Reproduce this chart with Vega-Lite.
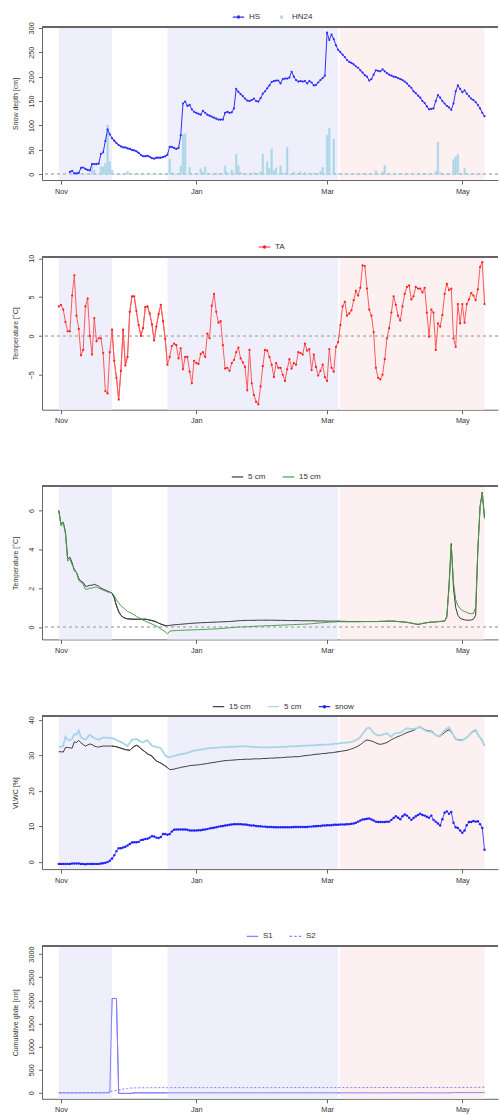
{
  "$schema": "https://vega.github.io/schema/vega-lite/v6.json",
  "background": "white",
  "padding": {"left": 11, "top": 10, "right": 0, "bottom": 0},
  "spacing": 76.7,
  "bounds": "flush",
  "datasets": {
    "bg": [
      {"s": "2020-10-31", "e": "2020-11-24", "t": "b"},
      {"s": "2020-12-19", "e": "2021-03-05T21:00:00Z", "t": "b"},
      {"s": "2021-03-06T18:00:00Z", "e": "2021-05-11", "t": "p"}
    ],
    "t": [
      {"d":"2020-10-31","TA":3.8,"T5":6.0,"T15":6.0,"V15":31.0,"V5":32.4,"VS":-0.6,"S1":0,"S2":0},
      {"d":"2020-11-01","TA":4.0,"T5":5.3,"T15":5.2,"V15":31.0,"V5":32.4,"VS":-0.6,"S1":0,"S2":0},
      {"d":"2020-11-02","TA":3.4,"T5":5.4,"T15":5.4,"V15":30.9,"V5":32.6,"VS":-0.6,"S1":0,"S2":0},
      {"d":"2020-11-03","TA":1.8,"T5":4.9,"T15":4.8,"V15":32.2,"V5":35.2,"VS":-0.6,"S1":0,"S2":0},
      {"d":"2020-11-04","TA":0.6,"T5":3.5,"T15":3.4,"V15":32.2,"V5":34.4,"VS":-0.6,"S1":0,"S2":0},
      {"d":"2020-11-05","HS":5,"HN":0,"TA":0.6,"T5":3.6,"T15":3.5,"V15":32.1,"V5":34.2,"VS":-0.6,"S1":0,"S2":0},
      {"d":"2020-11-06","HS":7,"HN":0,"TA":5.2,"T5":3.3,"T15":3.2,"V15":32.0,"V5":34.6,"VS":-0.5,"S1":0,"S2":0},
      {"d":"2020-11-07","HS":2,"HN":0,"TA":7.8,"T5":2.9,"T15":3.0,"V15":33.8,"V5":36.0,"VS":-0.5,"S1":0,"S2":0},
      {"d":"2020-11-08","HS":2,"HN":0,"TA":2.6,"T5":2.8,"T15":2.8,"V15":33.6,"V5":35.8,"VS":-0.5,"S1":0,"S2":0},
      {"d":"2020-11-09","HS":3,"HN":0,"TA":0.9,"T5":2.5,"T15":2.4,"V15":34.2,"V5":36.9,"VS":-0.5,"S1":0,"S2":0},
      {"d":"2020-11-10","HS":13,"HN":0,"TA":-2.5,"T5":2.35,"T15":2.3,"V15":33.5,"V5":35.0,"VS":-0.6,"S1":0,"S2":0},
      {"d":"2020-11-11","HS":14,"HN":0,"TA":-1.8,"T5":2.3,"T15":2.2,"V15":33.0,"V5":34.7,"VS":-0.6,"S1":0,"S2":3},
      {"d":"2020-11-12","HS":11,"HN":0,"TA":3.8,"T5":2.1,"T15":1.95,"V15":32.6,"V5":34.4,"VS":-0.7,"S1":0,"S2":3},
      {"d":"2020-11-13","HS":9,"HN":0,"TA":4.8,"T5":2.1,"T15":1.95,"V15":32.9,"V5":35.1,"VS":-0.6,"S1":0,"S2":3},
      {"d":"2020-11-14","HS":8,"HN":0,"TA":0.0,"T5":2.15,"T15":2.0,"V15":33.2,"V5":35.8,"VS":-0.6,"S1":0,"S2":3},
      {"d":"2020-11-15","HS":21,"HN":17,"TA":-2.4,"T5":2.15,"T15":2.0,"V15":33.0,"V5":35.3,"VS":-0.6,"S1":0,"S2":3},
      {"d":"2020-11-16","HS":21,"HN":8,"TA":2.3,"T5":2.2,"T15":2.05,"V15":32.6,"V5":34.8,"VS":-0.6,"S1":0,"S2":3},
      {"d":"2020-11-17","HS":21,"HN":0,"TA":-0.7,"T5":2.15,"T15":2.05,"V15":32.4,"V5":34.6,"VS":-0.6,"S1":0,"S2":3},
      {"d":"2020-11-18","HS":22,"HN":0,"TA":-0.3,"T5":2.1,"T15":2.0,"V15":32.3,"V5":34.4,"VS":-0.6,"S1":0,"S2":3},
      {"d":"2020-11-19","HS":42,"HN":16,"TA":-0.3,"T5":2.0,"T15":1.95,"V15":32.5,"V5":34.7,"VS":-0.5,"S1":0,"S2":3},
      {"d":"2020-11-20","HS":45,"HN":15,"TA":-2.2,"T5":1.95,"T15":1.9,"V15":32.6,"V5":35.0,"VS":-0.4,"S1":0,"S2":3},
      {"d":"2020-11-21","HS":68,"HN":23,"TA":-7.1,"T5":1.9,"T15":1.85,"V15":32.6,"V5":35.0,"VS":-0.3,"S1":0,"S2":3},
      {"d":"2020-11-22","HS":92,"HN":101,"TA":-7.4,"T5":1.85,"T15":1.8,"V15":32.6,"V5":34.9,"VS":-0.1,"S1":0,"S2":10},
      {"d":"2020-11-23","HS":82,"HN":26,"TA":-2.1,"T5":1.8,"T15":1.78,"V15":32.6,"V5":34.9,"VS":0.3,"S1":0,"S2":25},
      {"d":"2020-11-24","HS":74,"HN":9,"TA":0.8,"T5":1.75,"T15":1.75,"V15":32.6,"V5":34.8,"VS":0.9,"S1":2040,"S2":40},
      {"d":"2020-11-25","HS":69,"HN":0,"TA":-3.2,"T5":1.5,"T15":1.6,"V15":32.5,"V5":34.6,"VS":1.8,"S1":2040,"S2":45},
      {"d":"2020-11-26","HS":64,"HN":0,"TA":-5.4,"T5":1.1,"T15":1.4,"V15":32.4,"V5":34.3,"VS":3.0,"S1":2040,"S2":50},
      {"d":"2020-11-27","HS":60,"HN":0,"TA":-8.2,"T5":0.8,"T15":1.25,"V15":32.2,"V5":34.0,"VS":3.8,"S1":-12,"S2":60},
      {"d":"2020-11-28","HS":57,"HN":0,"TA":-4.5,"T5":0.6,"T15":1.1,"V15":32.0,"V5":33.8,"VS":3.8,"S1":-12,"S2":70},
      {"d":"2020-11-29","HS":55,"HN":0,"TA":0.8,"T5":0.5,"T15":1.0,"V15":31.8,"V5":33.4,"VS":4.0,"S1":-12,"S2":80},
      {"d":"2020-11-30","HS":55,"HN":0,"TA":-3.8,"T5":0.45,"T15":0.9,"V15":31.6,"V5":33.0,"VS":4.2,"S1":-12,"S2":88},
      {"d":"2020-12-01","HS":53,"HN":6,"TA":-2.7,"T5":0.42,"T15":0.8,"V15":31.5,"V5":32.6,"VS":4.6,"S1":-12,"S2":94},
      {"d":"2020-12-02","HS":52,"HN":0,"TA":3.1,"T5":0.41,"T15":0.75,"V15":31.4,"V5":33.5,"VS":5.0,"S1":-12,"S2":100},
      {"d":"2020-12-03","HS":50,"HN":0,"TA":5.1,"T5":0.4,"T15":0.7,"V15":32.0,"V5":34.4,"VS":5.4,"S1":-12,"S2":103},
      {"d":"2020-12-04","HS":49,"HN":0,"TA":5.1,"T5":0.4,"T15":0.62,"V15":32.5,"V5":34.5,"VS":5.5,"S1":0,"S2":105},
      {"d":"2020-12-05","HS":47,"HN":0,"TA":3.2,"T5":0.4,"T15":0.55,"V15":32.8,"V5":34.6,"VS":5.5,"S1":0,"S2":107},
      {"d":"2020-12-06","HS":44,"HN":0,"TA":1.4,"T5":0.4,"T15":0.48,"V15":32.5,"V5":34.2,"VS":5.6,"S1":0,"S2":108},
      {"d":"2020-12-07","HS":40,"HN":0,"TA":0.0,"T5":0.4,"T15":0.42,"V15":31.9,"V5":33.8,"VS":6.1,"S1":0,"S2":109},
      {"d":"2020-12-08","HS":37,"HN":0,"TA":1.0,"T5":0.4,"T15":0.35,"V15":31.4,"V5":33.6,"VS":6.2,"S1":0,"S2":110},
      {"d":"2020-12-09","HS":37,"HN":0,"TA":3.7,"T5":0.4,"T15":0.3,"V15":30.9,"V5":34.0,"VS":6.4,"S1":0,"S2":110},
      {"d":"2020-12-10","HS":38,"HN":0,"TA":3.8,"T5":0.38,"T15":0.25,"V15":30.4,"V5":34.2,"VS":6.5,"S1":0,"S2":110},
      {"d":"2020-12-11","HS":36,"HN":0,"TA":2.9,"T5":0.36,"T15":0.2,"V15":30.1,"V5":33.4,"VS":6.8,"S1":0,"S2":110},
      {"d":"2020-12-12","HS":33,"HN":0,"TA":1.5,"T5":0.33,"T15":0.15,"V15":29.8,"V5":32.7,"VS":7.2,"S1":0,"S2":111},
      {"d":"2020-12-13","HS":32,"HN":0,"TA":-0.6,"T5":0.3,"T15":0.1,"V15":29.0,"V5":32.5,"VS":7.1,"S1":0,"S2":111},
      {"d":"2020-12-14","HS":34,"HN":0,"TA":1.2,"T5":0.26,"T15":0.05,"V15":28.4,"V5":32.4,"VS":6.8,"S1":0,"S2":111},
      {"d":"2020-12-15","HS":34,"HN":0,"TA":2.8,"T5":0.2,"T15":-0.02,"V15":28.1,"V5":32.2,"VS":6.7,"S1":0,"S2":111},
      {"d":"2020-12-16","HS":34,"HN":0,"TA":4.0,"T5":0.15,"T15":-0.1,"V15":27.8,"V5":32.0,"VS":7.0,"S1":0,"S2":111},
      {"d":"2020-12-17","HS":35,"HN":0,"TA":1.9,"T5":0.11,"T15":-0.17,"V15":27.4,"V5":31.0,"VS":7.8,"S1":0,"S2":112},
      {"d":"2020-12-18","HS":37,"HN":0,"TA":-0.4,"T5":0.07,"T15":-0.25,"V15":27.0,"V5":30.0,"VS":7.8,"S1":0,"S2":112},
      {"d":"2020-12-19","HS":40,"HN":0,"TA":-3.7,"T5":0.07,"T15":-0.35,"V15":26.5,"V5":29.5,"VS":7.6,"S1":0,"S2":112},
      {"d":"2020-12-20","HS":56,"HN":31,"TA":-2.7,"T5":0.08,"T15":-0.22,"V15":26.0,"V5":29.5,"VS":7.8,"S1":0,"S2":112},
      {"d":"2020-12-21","HS":56,"HN":3,"TA":-1.3,"T5":0.1,"T15":-0.2,"V15":26.0,"V5":29.6,"VS":8.5,"S1":0,"S2":112},
      {"d":"2020-12-22","HS":54,"HN":0,"TA":-1.0,"T5":0.11,"T15":-0.19,"V15":26.1,"V5":29.8,"VS":9.0,"S1":0,"S2":113},
      {"d":"2020-12-23","HS":52,"HN":0,"TA":-1.2,"T5":0.12,"T15":-0.18,"V15":26.3,"V5":30.0,"VS":9.1,"S1":0,"S2":113},
      {"d":"2020-12-24","HS":54,"HN":0,"TA":-2.9,"T5":0.13,"T15":-0.18,"V15":26.4,"V5":30.2,"VS":9.1,"S1":0,"S2":113},
      {"d":"2020-12-25","HS":80,"HN":17,"TA":-1.6,"T5":0.14,"T15":-0.17,"V15":26.6,"V5":30.3,"VS":9.1,"S1":0,"S2":113},
      {"d":"2020-12-26","HS":145,"HN":82,"TA":-4.3,"T5":0.15,"T15":-0.17,"V15":26.7,"V5":30.4,"VS":9.1,"S1":0,"S2":113},
      {"d":"2020-12-27","HS":149,"HN":83,"TA":-2.7,"T5":0.16,"T15":-0.16,"V15":26.8,"V5":30.5,"VS":9.1,"S1":0,"S2":113},
      {"d":"2020-12-28","HS":140,"HN":0,"TA":-2.7,"T5":0.17,"T15":-0.16,"V15":26.9,"V5":30.7,"VS":9.0,"S1":0,"S2":113},
      {"d":"2020-12-29","HS":142,"HN":14,"TA":-4.6,"T5":0.18,"T15":-0.15,"V15":27.1,"V5":30.9,"VS":8.8,"S1":0,"S2":113},
      {"d":"2020-12-30","HS":133,"HN":0,"TA":-6.1,"T5":0.19,"T15":-0.15,"V15":27.15,"V5":31.1,"VS":8.8,"S1":0,"S2":113},
      {"d":"2020-12-31","HS":128,"HN":0,"TA":-3.2,"T5":0.2,"T15":-0.15,"V15":27.2,"V5":31.3,"VS":8.8,"S1":0,"S2":113},
      {"d":"2021-01-01","HS":126,"HN":0,"TA":-3.5,"T5":0.2,"T15":-0.14,"V15":27.25,"V5":31.4,"VS":8.8,"S1":0,"S2":113},
      {"d":"2021-01-02","HS":124,"HN":0,"TA":-3.6,"T5":0.21,"T15":-0.14,"V15":27.3,"V5":31.5,"VS":8.9,"S1":0,"S2":113},
      {"d":"2021-01-03","HS":122,"HN":11,"TA":-2.3,"T5":0.22,"T15":-0.13,"V15":27.4,"V5":31.6,"VS":8.9,"S1":0,"S2":113},
      {"d":"2021-01-04","HS":130,"HN":5,"TA":-2.1,"T5":0.22,"T15":-0.13,"V15":27.5,"V5":31.7,"VS":9.0,"S1":0,"S2":113},
      {"d":"2021-01-05","HS":126,"HN":15,"TA":-2.7,"T5":0.23,"T15":-0.12,"V15":27.6,"V5":31.9,"VS":9.1,"S1":0,"S2":113},
      {"d":"2021-01-06","HS":122,"HN":0,"TA":0.3,"T5":0.23,"T15":-0.12,"V15":27.7,"V5":31.9,"VS":9.2,"S1":0,"S2":113},
      {"d":"2021-01-07","HS":120,"HN":0,"TA":-0.3,"T5":0.24,"T15":-0.11,"V15":27.8,"V5":32.0,"VS":9.4,"S1":0,"S2":113},
      {"d":"2021-01-08","HS":118,"HN":0,"TA":3.9,"T5":0.24,"T15":-0.11,"V15":27.9,"V5":32.0,"VS":9.5,"S1":0,"S2":113},
      {"d":"2021-01-09","HS":116,"HN":0,"TA":5.4,"T5":0.25,"T15":-0.1,"V15":28.0,"V5":32.1,"VS":9.6,"S1":0,"S2":113},
      {"d":"2021-01-10","HS":114,"HN":3,"TA":3.1,"T5":0.25,"T15":-0.1,"V15":28.1,"V5":32.1,"VS":9.7,"S1":0,"S2":113},
      {"d":"2021-01-11","HS":112,"HN":0,"TA":1.7,"T5":0.26,"T15":-0.09,"V15":28.2,"V5":32.2,"VS":9.9,"S1":0,"S2":113},
      {"d":"2021-01-12","HS":112,"HN":0,"TA":1.9,"T5":0.26,"T15":-0.08,"V15":28.3,"V5":32.2,"VS":10.0,"S1":0,"S2":113},
      {"d":"2021-01-13","HS":112,"HN":0,"TA":-1.2,"T5":0.27,"T15":-0.07,"V15":28.4,"V5":32.3,"VS":10.1,"S1":0,"S2":113},
      {"d":"2021-01-14","HS":126,"HN":17,"TA":-4.2,"T5":0.27,"T15":-0.06,"V15":28.5,"V5":32.3,"VS":10.2,"S1":0,"S2":113},
      {"d":"2021-01-15","HS":128,"HN":4,"TA":-4.1,"T5":0.28,"T15":-0.05,"V15":28.5,"V5":32.3,"VS":10.3,"S1":0,"S2":113},
      {"d":"2021-01-16","HS":126,"HN":0,"TA":-4.5,"T5":0.28,"T15":-0.04,"V15":28.6,"V5":32.4,"VS":10.4,"S1":0,"S2":113},
      {"d":"2021-01-17","HS":127,"HN":9,"TA":-3.5,"T5":0.29,"T15":-0.03,"V15":28.6,"V5":32.4,"VS":10.5,"S1":0,"S2":113},
      {"d":"2021-01-18","HS":135,"HN":0,"TA":-3.1,"T5":0.3,"T15":-0.02,"V15":28.7,"V5":32.4,"VS":10.6,"S1":0,"S2":113},
      {"d":"2021-01-19","HS":175,"HN":41,"TA":-2.1,"T5":0.31,"T15":-0.01,"V15":28.7,"V5":32.4,"VS":10.6,"S1":0,"S2":113},
      {"d":"2021-01-20","HS":169,"HN":18,"TA":-1.5,"T5":0.32,"T15":0.0,"V15":28.8,"V5":32.5,"VS":10.6,"S1":0,"S2":113},
      {"d":"2021-01-21","HS":164,"HN":4,"TA":-2.9,"T5":0.33,"T15":0.0,"V15":28.8,"V5":32.5,"VS":10.6,"S1":0,"S2":113},
      {"d":"2021-01-22","HS":160,"HN":0,"TA":-3.4,"T5":0.33,"T15":0.0,"V15":28.8,"V5":32.5,"VS":10.5,"S1":0,"S2":113},
      {"d":"2021-01-23","HS":155,"HN":0,"TA":-4.0,"T5":0.34,"T15":0.01,"V15":28.9,"V5":32.5,"VS":10.5,"S1":0,"S2":113},
      {"d":"2021-01-24","HS":151,"HN":0,"TA":-7.0,"T5":0.34,"T15":0.01,"V15":28.9,"V5":32.5,"VS":10.4,"S1":0,"S2":113},
      {"d":"2021-01-25","HS":150,"HN":0,"TA":-1.8,"T5":0.34,"T15":0.02,"V15":28.9,"V5":32.4,"VS":10.3,"S1":0,"S2":113},
      {"d":"2021-01-26","HS":152,"HN":0,"TA":-6.1,"T5":0.34,"T15":0.03,"V15":28.9,"V5":32.4,"VS":10.2,"S1":0,"S2":113},
      {"d":"2021-01-27","HS":155,"HN":4,"TA":-7.6,"T5":0.34,"T15":0.03,"V15":29.0,"V5":32.3,"VS":10.2,"S1":0,"S2":113},
      {"d":"2021-01-28","HS":150,"HN":0,"TA":-8.5,"T5":0.35,"T15":0.04,"V15":29.0,"V5":32.3,"VS":10.1,"S1":0,"S2":113},
      {"d":"2021-01-29","HS":149,"HN":0,"TA":-8.8,"T5":0.35,"T15":0.04,"V15":29.0,"V5":32.3,"VS":10.0,"S1":0,"S2":113},
      {"d":"2021-01-30","HS":156,"HN":5,"TA":-6.5,"T5":0.35,"T15":0.05,"V15":29.0,"V5":32.2,"VS":10.0,"S1":0,"S2":113},
      {"d":"2021-01-31","HS":165,"HN":41,"TA":-3.9,"T5":0.35,"T15":0.05,"V15":29.1,"V5":32.2,"VS":9.9,"S1":0,"S2":113},
      {"d":"2021-02-01","HS":170,"HN":0,"TA":-1.8,"T5":0.35,"T15":0.06,"V15":29.1,"V5":32.2,"VS":9.9,"S1":0,"S2":113},
      {"d":"2021-02-02","HS":176,"HN":26,"TA":-1.9,"T5":0.35,"T15":0.06,"V15":29.1,"V5":32.2,"VS":9.8,"S1":0,"S2":113},
      {"d":"2021-02-03","HS":182,"HN":12,"TA":-2.7,"T5":0.35,"T15":0.07,"V15":29.2,"V5":32.2,"VS":9.8,"S1":0,"S2":113},
      {"d":"2021-02-04","HS":189,"HN":52,"TA":-3.7,"T5":0.35,"T15":0.07,"V15":29.2,"V5":32.3,"VS":9.8,"S1":0,"S2":113},
      {"d":"2021-02-05","HS":191,"HN":8,"TA":-5.3,"T5":0.35,"T15":0.08,"V15":29.2,"V5":32.3,"VS":9.7,"S1":0,"S2":113},
      {"d":"2021-02-06","HS":192,"HN":13,"TA":-3.5,"T5":0.34,"T15":0.08,"V15":29.3,"V5":32.3,"VS":9.7,"S1":0,"S2":113},
      {"d":"2021-02-07","HS":192,"HN":0,"TA":-4.1,"T5":0.34,"T15":0.09,"V15":29.3,"V5":32.3,"VS":9.7,"S1":0,"S2":113},
      {"d":"2021-02-08","HS":186,"HN":17,"TA":-4.1,"T5":0.34,"T15":0.09,"V15":29.3,"V5":32.3,"VS":9.7,"S1":0,"S2":113},
      {"d":"2021-02-09","HS":195,"HN":3,"TA":-5.0,"T5":0.34,"T15":0.1,"V15":29.4,"V5":32.4,"VS":9.7,"S1":0,"S2":113},
      {"d":"2021-02-10","HS":196,"HN":0,"TA":-5.8,"T5":0.34,"T15":0.1,"V15":29.4,"V5":32.4,"VS":9.7,"S1":0,"S2":114},
      {"d":"2021-02-11","HS":196,"HN":55,"TA":-4.3,"T5":0.33,"T15":0.11,"V15":29.5,"V5":32.4,"VS":9.7,"S1":0,"S2":114},
      {"d":"2021-02-12","HS":198,"HN":0,"TA":-3.0,"T5":0.33,"T15":0.11,"V15":29.5,"V5":32.5,"VS":9.7,"S1":0,"S2":114},
      {"d":"2021-02-13","HS":210,"HN":0,"TA":-4.2,"T5":0.33,"T15":0.12,"V15":29.5,"V5":32.5,"VS":9.7,"S1":0,"S2":114},
      {"d":"2021-02-14","HS":200,"HN":5,"TA":-3.5,"T5":0.33,"T15":0.12,"V15":29.6,"V5":32.5,"VS":9.8,"S1":0,"S2":114},
      {"d":"2021-02-15","HS":193,"HN":0,"TA":-3.7,"T5":0.33,"T15":0.13,"V15":29.6,"V5":32.6,"VS":9.8,"S1":0,"S2":114},
      {"d":"2021-02-16","HS":190,"HN":0,"TA":-2.1,"T5":0.33,"T15":0.13,"V15":29.6,"V5":32.6,"VS":9.8,"S1":0,"S2":114},
      {"d":"2021-02-17","HS":191,"HN":5,"TA":-2.2,"T5":0.32,"T15":0.14,"V15":29.7,"V5":32.6,"VS":9.8,"S1":0,"S2":114},
      {"d":"2021-02-18","HS":190,"HN":0,"TA":-2.4,"T5":0.32,"T15":0.14,"V15":29.8,"V5":32.7,"VS":9.8,"S1":0,"S2":114},
      {"d":"2021-02-19","HS":191,"HN":4,"TA":-1.0,"T5":0.32,"T15":0.15,"V15":29.9,"V5":32.7,"VS":9.8,"S1":0,"S2":114},
      {"d":"2021-02-20","HS":186,"HN":0,"TA":-1.9,"T5":0.32,"T15":0.15,"V15":30.0,"V5":32.7,"VS":9.8,"S1":0,"S2":114},
      {"d":"2021-02-21","HS":191,"HN":3,"TA":-1.7,"T5":0.32,"T15":0.16,"V15":30.0,"V5":32.8,"VS":9.9,"S1":0,"S2":114},
      {"d":"2021-02-22","HS":188,"HN":0,"TA":-4.4,"T5":0.32,"T15":0.17,"V15":30.1,"V5":32.8,"VS":9.9,"S1":0,"S2":114},
      {"d":"2021-02-23","HS":182,"HN":3,"TA":-2.4,"T5":0.32,"T15":0.18,"V15":30.2,"V5":32.8,"VS":10.0,"S1":0,"S2":114},
      {"d":"2021-02-24","HS":183,"HN":0,"TA":-4.0,"T5":0.31,"T15":0.19,"V15":30.3,"V5":32.9,"VS":10.0,"S1":0,"S2":114},
      {"d":"2021-02-25","HS":188,"HN":0,"TA":-5.1,"T5":0.31,"T15":0.2,"V15":30.3,"V5":32.9,"VS":10.1,"S1":0,"S2":114},
      {"d":"2021-02-26","HS":193,"HN":6,"TA":-4.5,"T5":0.31,"T15":0.21,"V15":30.4,"V5":32.9,"VS":10.1,"S1":0,"S2":114},
      {"d":"2021-02-27","HS":197,"HN":14,"TA":-3.7,"T5":0.31,"T15":0.22,"V15":30.5,"V5":33.0,"VS":10.2,"S1":0,"S2":114},
      {"d":"2021-02-28","HS":202,"HN":0,"TA":-5.3,"T5":0.31,"T15":0.23,"V15":30.5,"V5":33.0,"VS":10.2,"S1":0,"S2":114},
      {"d":"2021-03-01","HS":290,"HN":80,"TA":-5.8,"T5":0.3,"T15":0.24,"V15":30.6,"V5":33.0,"VS":10.3,"S1":0,"S2":114},
      {"d":"2021-03-02","HS":275,"HN":95,"TA":-1.7,"T5":0.3,"T15":0.25,"V15":30.7,"V5":33.1,"VS":10.3,"S1":0,"S2":114},
      {"d":"2021-03-03","HS":286,"HN":0,"TA":-4.1,"T5":0.3,"T15":0.25,"V15":30.7,"V5":33.1,"VS":10.3,"S1":0,"S2":114},
      {"d":"2021-03-04","HS":277,"HN":72,"TA":-4.6,"T5":0.3,"T15":0.26,"V15":30.8,"V5":33.2,"VS":10.4,"S1":0,"S2":114},
      {"d":"2021-03-05","HS":264,"HN":0,"TA":-1.4,"T5":0.3,"T15":0.26,"V15":30.9,"V5":33.3,"VS":10.4,"S1":0,"S2":114},
      {"d":"2021-03-06","HS":255,"HN":0,"TA":-0.8,"T5":0.3,"T15":0.27,"V15":31.0,"V5":33.3,"VS":10.4,"S1":0,"S2":114},
      {"d":"2021-03-07","HS":250,"HN":0,"TA":1.4,"T5":0.29,"T15":0.27,"V15":31.1,"V5":33.4,"VS":10.5,"S1":0,"S2":114},
      {"d":"2021-03-08","HS":245,"HN":0,"TA":3.8,"T5":0.29,"T15":0.27,"V15":31.2,"V5":33.5,"VS":10.5,"S1":0,"S2":114},
      {"d":"2021-03-09","HS":240,"HN":0,"TA":4.4,"T5":0.29,"T15":0.27,"V15":31.3,"V5":33.5,"VS":10.5,"S1":0,"S2":114},
      {"d":"2021-03-10","HS":234,"HN":0,"TA":2.6,"T5":0.28,"T15":0.27,"V15":31.4,"V5":33.6,"VS":10.6,"S1":0,"S2":114},
      {"d":"2021-03-11","HS":230,"HN":0,"TA":2.9,"T5":0.28,"T15":0.27,"V15":31.6,"V5":33.7,"VS":10.6,"S1":0,"S2":114},
      {"d":"2021-03-12","HS":228,"HN":0,"TA":3.3,"T5":0.28,"T15":0.27,"V15":31.8,"V5":33.8,"VS":10.7,"S1":0,"S2":114},
      {"d":"2021-03-13","HS":225,"HN":0,"TA":4.6,"T5":0.28,"T15":0.27,"V15":32.0,"V5":34.0,"VS":10.8,"S1":0,"S2":114},
      {"d":"2021-03-14","HS":221,"HN":0,"TA":5.8,"T5":0.28,"T15":0.27,"V15":32.3,"V5":34.3,"VS":11.0,"S1":0,"S2":114},
      {"d":"2021-03-15","HS":218,"HN":0,"TA":5.2,"T5":0.28,"T15":0.27,"V15":32.6,"V5":34.6,"VS":11.3,"S1":0,"S2":114},
      {"d":"2021-03-16","HS":213,"HN":0,"TA":6.2,"T5":0.28,"T15":0.27,"V15":33.0,"V5":35.2,"VS":11.6,"S1":0,"S2":114},
      {"d":"2021-03-17","HS":208,"HN":0,"TA":9.1,"T5":0.28,"T15":0.28,"V15":33.5,"V5":36.0,"VS":11.9,"S1":0,"S2":114},
      {"d":"2021-03-18","HS":203,"HN":0,"TA":9.0,"T5":0.28,"T15":0.28,"V15":34.0,"V5":36.9,"VS":12.0,"S1":0,"S2":114},
      {"d":"2021-03-19","HS":200,"HN":0,"TA":6.1,"T5":0.28,"T15":0.28,"V15":34.3,"V5":37.6,"VS":12.1,"S1":0,"S2":114},
      {"d":"2021-03-20","HS":192,"HN":0,"TA":3.4,"T5":0.28,"T15":0.28,"V15":34.2,"V5":37.8,"VS":12.2,"S1":0,"S2":115},
      {"d":"2021-03-21","HS":195,"HN":0,"TA":2.6,"T5":0.28,"T15":0.28,"V15":34.0,"V5":37.2,"VS":11.9,"S1":0,"S2":115},
      {"d":"2021-03-22","HS":204,"HN":0,"TA":0.5,"T5":0.28,"T15":0.28,"V15":33.8,"V5":36.3,"VS":11.6,"S1":0,"S2":115},
      {"d":"2021-03-23","HS":213,"HN":8,"TA":-4.1,"T5":0.28,"T15":0.28,"V15":33.5,"V5":35.8,"VS":11.3,"S1":0,"S2":115},
      {"d":"2021-03-24","HS":212,"HN":0,"TA":-5.4,"T5":0.28,"T15":0.28,"V15":33.2,"V5":35.6,"VS":11.2,"S1":0,"S2":115},
      {"d":"2021-03-25","HS":211,"HN":0,"TA":-5.6,"T5":0.29,"T15":0.29,"V15":33.1,"V5":35.6,"VS":11.2,"S1":0,"S2":115},
      {"d":"2021-03-26","HS":215,"HN":5,"TA":-5.0,"T5":0.29,"T15":0.29,"V15":33.2,"V5":35.8,"VS":11.2,"S1":0,"S2":115},
      {"d":"2021-03-27","HS":211,"HN":18,"TA":-3.0,"T5":0.29,"T15":0.29,"V15":33.4,"V5":36.0,"VS":11.2,"S1":0,"S2":115},
      {"d":"2021-03-28","HS":207,"HN":0,"TA":-0.3,"T5":0.3,"T15":0.3,"V15":33.6,"V5":36.2,"VS":11.3,"S1":0,"S2":115},
      {"d":"2021-03-29","HS":204,"HN":0,"TA":1.0,"T5":0.3,"T15":0.3,"V15":34.0,"V5":35.6,"VS":11.3,"S1":0,"S2":115},
      {"d":"2021-03-30","HS":202,"HN":0,"TA":3.0,"T5":0.3,"T15":0.3,"V15":34.4,"V5":35.2,"VS":11.8,"S1":0,"S2":115},
      {"d":"2021-03-31","HS":200,"HN":0,"TA":5.1,"T5":0.3,"T15":0.3,"V15":34.7,"V5":36.0,"VS":12.3,"S1":0,"S2":115},
      {"d":"2021-04-01","HS":199,"HN":0,"TA":4.0,"T5":0.29,"T15":0.29,"V15":35.0,"V5":36.2,"VS":12.8,"S1":0,"S2":115},
      {"d":"2021-04-02","HS":197,"HN":0,"TA":2.6,"T5":0.28,"T15":0.28,"V15":35.3,"V5":36.3,"VS":12.4,"S1":0,"S2":115},
      {"d":"2021-04-03","HS":195,"HN":0,"TA":2.0,"T5":0.27,"T15":0.27,"V15":35.5,"V5":36.4,"VS":12.0,"S1":0,"S2":115},
      {"d":"2021-04-04","HS":193,"HN":0,"TA":3.8,"T5":0.26,"T15":0.26,"V15":35.8,"V5":36.8,"VS":12.8,"S1":0,"S2":115},
      {"d":"2021-04-05","HS":190,"HN":0,"TA":5.4,"T5":0.25,"T15":0.25,"V15":36.1,"V5":37.2,"VS":13.3,"S1":0,"S2":115},
      {"d":"2021-04-06","HS":186,"HN":0,"TA":6.3,"T5":0.24,"T15":0.24,"V15":36.4,"V5":37.6,"VS":13.0,"S1":0,"S2":115},
      {"d":"2021-04-07","HS":181,"HN":0,"TA":6.5,"T5":0.22,"T15":0.22,"V15":36.6,"V5":37.5,"VS":12.4,"S1":0,"S2":115},
      {"d":"2021-04-08","HS":177,"HN":0,"TA":4.7,"T5":0.2,"T15":0.2,"V15":36.8,"V5":37.4,"VS":11.8,"S1":0,"S2":115},
      {"d":"2021-04-09","HS":170,"HN":0,"TA":5.1,"T5":0.17,"T15":0.18,"V15":37.0,"V5":37.4,"VS":12.3,"S1":0,"S2":115},
      {"d":"2021-04-10","HS":166,"HN":0,"TA":6.3,"T5":0.15,"T15":0.16,"V15":37.4,"V5":37.6,"VS":12.8,"S1":0,"S2":115},
      {"d":"2021-04-11","HS":161,"HN":0,"TA":6.1,"T5":0.13,"T15":0.14,"V15":37.8,"V5":37.8,"VS":13.2,"S1":0,"S2":115},
      {"d":"2021-04-12","HS":157,"HN":0,"TA":6.1,"T5":0.15,"T15":0.16,"V15":38.0,"V5":37.9,"VS":13.5,"S1":0,"S2":115},
      {"d":"2021-04-13","HS":150,"HN":0,"TA":5.6,"T5":0.18,"T15":0.18,"V15":37.6,"V5":37.5,"VS":13.2,"S1":0,"S2":115},
      {"d":"2021-04-14","HS":146,"HN":0,"TA":6.2,"T5":0.2,"T15":0.2,"V15":37.2,"V5":37.0,"VS":13.0,"S1":0,"S2":115},
      {"d":"2021-04-15","HS":139,"HN":0,"TA":3.0,"T5":0.22,"T15":0.22,"V15":37.0,"V5":36.8,"VS":12.7,"S1":0,"S2":116},
      {"d":"2021-04-16","HS":133,"HN":0,"TA":-0.1,"T5":0.24,"T15":0.24,"V15":36.9,"V5":36.7,"VS":12.4,"S1":0,"S2":116},
      {"d":"2021-04-17","HS":134,"HN":0,"TA":3.4,"T5":0.25,"T15":0.25,"V15":36.8,"V5":36.6,"VS":13.0,"S1":0,"S2":116},
      {"d":"2021-04-18","HS":135,"HN":0,"TA":3.0,"T5":0.25,"T15":0.26,"V15":36.4,"V5":36.2,"VS":11.8,"S1":0,"S2":116},
      {"d":"2021-04-19","HS":150,"HN":6,"TA":-1.8,"T5":0.26,"T15":0.27,"V15":35.8,"V5":35.7,"VS":11.3,"S1":0,"S2":116},
      {"d":"2021-04-20","HS":162,"HN":66,"TA":1.6,"T5":0.27,"T15":0.28,"V15":35.3,"V5":35.3,"VS":10.8,"S1":0,"S2":116},
      {"d":"2021-04-21","HS":157,"HN":4,"TA":1.2,"T5":0.28,"T15":0.29,"V15":35.4,"V5":35.6,"VS":10.2,"S1":0,"S2":116},
      {"d":"2021-04-22","HS":150,"HN":0,"TA":2.7,"T5":0.29,"T15":0.3,"V15":35.9,"V5":36.3,"VS":12.0,"S1":0,"S2":116},
      {"d":"2021-04-23","HS":145,"HN":0,"TA":5.4,"T5":0.3,"T15":0.31,"V15":36.4,"V5":37.0,"VS":13.8,"S1":0,"S2":116},
      {"d":"2021-04-24","HS":140,"HN":0,"TA":6.7,"T5":0.5,"T15":0.55,"V15":36.9,"V5":37.5,"VS":14.2,"S1":0,"S2":116},
      {"d":"2021-04-25","HS":137,"HN":0,"TA":5.9,"T5":2.2,"T15":2.0,"V15":37.2,"V5":37.9,"VS":13.5,"S1":0,"S2":116},
      {"d":"2021-04-26","HS":132,"HN":0,"TA":6.1,"T5":4.3,"T15":4.2,"V15":36.5,"V5":36.8,"VS":14.0,"S1":0,"S2":116},
      {"d":"2021-04-27","HS":145,"HN":30,"TA":-0.3,"T5":2.0,"T15":2.3,"V15":35.6,"V5":35.6,"VS":11.0,"S1":5,"S2":116},
      {"d":"2021-04-28","HS":170,"HN":36,"TA":-1.4,"T5":1.0,"T15":1.4,"V15":34.6,"V5":34.5,"VS":9.7,"S1":5,"S2":116},
      {"d":"2021-04-29","HS":182,"HN":41,"TA":4.1,"T5":0.6,"T15":1.1,"V15":34.4,"V5":34.3,"VS":9.5,"S1":5,"S2":117},
      {"d":"2021-04-30","HS":175,"HN":0,"TA":1.6,"T5":0.45,"T15":0.95,"V15":34.3,"V5":34.2,"VS":8.8,"S1":5,"S2":117},
      {"d":"2021-05-01","HS":168,"HN":0,"TA":4.1,"T5":0.4,"T15":0.85,"V15":34.3,"V5":34.2,"VS":8.2,"S1":5,"S2":117},
      {"d":"2021-05-02","HS":172,"HN":12,"TA":1.7,"T5":0.37,"T15":0.8,"V15":34.6,"V5":34.6,"VS":8.8,"S1":5,"S2":117},
      {"d":"2021-05-03","HS":165,"HN":0,"TA":4.1,"T5":0.35,"T15":0.75,"V15":35.0,"V5":35.0,"VS":10.3,"S1":5,"S2":117},
      {"d":"2021-05-04","HS":160,"HN":0,"TA":4.7,"T5":0.35,"T15":0.7,"V15":35.6,"V5":35.6,"VS":11.2,"S1":5,"S2":117},
      {"d":"2021-05-05","HS":155,"HN":0,"TA":5.5,"T5":0.36,"T15":0.68,"V15":36.2,"V5":36.3,"VS":11.2,"S1":5,"S2":117},
      {"d":"2021-05-06","HS":152,"HN":0,"TA":5.2,"T5":0.4,"T15":0.7,"V15":36.7,"V5":36.9,"VS":11.5,"S1":5,"S2":118},
      {"d":"2021-05-07","HS":148,"HN":0,"TA":4.6,"T5":0.6,"T15":1.0,"V15":37.0,"V5":37.2,"VS":11.3,"S1":5,"S2":118},
      {"d":"2021-05-08","HS":142,"HN":0,"TA":6.0,"T5":4.0,"T15":4.0,"V15":35.8,"V5":36.0,"VS":11.4,"S1":5,"S2":118},
      {"d":"2021-05-09","HS":135,"HN":0,"TA":8.9,"T5":6.2,"T15":6.2,"V15":35.0,"V5":35.1,"VS":10.6,"S1":5,"S2":119},
      {"d":"2021-05-10","HS":126,"HN":0,"TA":9.5,"T5":6.95,"T15":6.9,"V15":34.0,"V5":34.2,"VS":9.5,"S1":5,"S2":120},
      {"d":"2021-05-11","HS":119,"HN":0,"TA":4.1,"T5":5.6,"T15":5.6,"V15":32.8,"V5":32.6,"VS":3.4,"S1":5,"S2":122}
    ]
  },
  "data": {"name": "t"},
  "resolve": {
    "scale": {"x": "independent", "y": "independent", "color": "independent", "shape": "independent"},
    "axis": {"x": "independent", "y": "independent"},
    "legend": {"color": "independent", "shape": "independent"}
  },
  "vconcat": [
    {
      "width": 456,
      "height": 153,
      "layer": [
        {"mark": {"type": "line", "color": "#2f2fff", "strokeWidth": 1},
         "encoding": {
           "x": {"field": "d", "type": "temporal", "scale": {"type": "utc", "padding": 0, "domain": [{"year": 2020, "month": 10, "date": 23, "hours": 10, "utc": true}, {"year": 2021, "month": 5, "date": 17, "hours": 2, "utc": true}]},
                 "axis": {"title": null, "format": "%b", "tickCount": 12, "labelOverlap": false, "values": [{"year": 2020, "month": 11, "date": 1, "utc": true}, {"year": 2021, "month": 1, "date": 1, "utc": true}, {"year": 2021, "month": 3, "date": 1, "utc": true}, {"year": 2021, "month": 5, "date": 1, "utc": true}]}},
           "y": {"field": "HS", "type": "quantitative", "scale": {"domain": [-11.6, 301.6], "nice": false, "zero": false},
                 "axis": {"title": "Snow depth [cm]", "format": "d", "tickCount": 10, "labelOverlap": false, "values": [0, 50, 100, 150, 200, 250, 300]}}}},
        {"data": {"name": "bg"}, "transform": [{"filter": "datum.t == 'b'"}], "mark": {"type": "rect", "color": "#efeffc"},
         "encoding": {"x": {"field": "s", "type": "temporal"}, "x2": {"field": "e"}}},
        {"data": {"name": "bg"}, "transform": [{"filter": "datum.t == 'p'"}], "mark": {"type": "rect", "color": "#fdf0f0"},
         "encoding": {"x": {"field": "s", "type": "temporal"}, "x2": {"field": "e"}}},
        {"mark": {"type": "rule", "color": "#c4c4c4", "strokeDash": [3, 3], "strokeWidth": 0.8},
         "encoding": {"y": {"datum": 0, "type": "quantitative"}}},
        {"mark": {"type": "bar", "color": "#a9d7e6", "width": 1.6, "stroke": "#a9d7e6", "strokeWidth": 0.5},
         "encoding": {"x": {"field": "d", "type": "temporal", "scale": {"padding": 0}}, "y": {"field": "HN", "type": "quantitative"}, "y2": {"datum": 0}}},
        {"mark": {"type": "line", "color": "#2f2fff", "strokeWidth": 1},
         "encoding": {"x": {"field": "d", "type": "temporal"}, "y": {"field": "HS", "type": "quantitative"}}},
        {"mark": {"type": "point", "filled": true, "color": "#2f2fff", "size": 5, "opacity": 1},
         "encoding": {"x": {"field": "d", "type": "temporal"}, "y": {"field": "HS", "type": "quantitative"}}},
        {"mark": {"type": "rule", "color": "#666666", "strokeWidth": 1},
         "encoding": {"y": {"datum": 301.6, "type": "quantitative"}}},
        {"transform": [{"filter": "false"}], "mark": {"type": "point", "filled": false, "opacity": 1},
         "encoding": {
           "color": {"field": "k", "type": "nominal", "scale": {"domain": ["HS", "HN24"], "range": ["#2f2fff", "#a9d7e6"]}, "legend": {"title": null, "legendX": 190, "legendY": -16.7}},
           "shape": {"field": "k", "type": "nominal", "scale": {"domain": ["HS", "HN24"], "range": ["M-1,0H1M0.2,0A0.2,0.2,0,1,1,-0.2,0A0.2,0.2,0,1,1,0.2,0", "M-0.15,-0.15H0.15V0.15H-0.15Z"]}, "legend": {"title": null, "legendX": 190, "legendY": -16.7}}}}
      ]
    },
    {
      "width": 456,
      "height": 153,
      "layer": [
        {"mark": {"type": "line", "color": "#ff5a5a", "strokeWidth": 1},
         "encoding": {
           "x": {"field": "d", "type": "temporal", "scale": {"type": "utc", "padding": 0, "domain": [{"year": 2020, "month": 10, "date": 23, "hours": 10, "utc": true}, {"year": 2021, "month": 5, "date": 17, "hours": 2, "utc": true}]},
                 "axis": {"title": null, "format": "%b", "tickCount": 12, "labelOverlap": false, "values": [{"year": 2020, "month": 11, "date": 1, "utc": true}, {"year": 2021, "month": 1, "date": 1, "utc": true}, {"year": 2021, "month": 3, "date": 1, "utc": true}, {"year": 2021, "month": 5, "date": 1, "utc": true}]}},
           "y": {"field": "TA", "type": "quantitative", "scale": {"domain": [-9.5, 10.2], "nice": false, "zero": false},
                 "axis": {"title": "Temperature [°C]", "format": "d", "tickCount": 10, "labelOverlap": false, "values": [-5, 0, 5, 10]}}}},
        {"data": {"name": "bg"}, "transform": [{"filter": "datum.t == 'b'"}], "mark": {"type": "rect", "color": "#efeffc"},
         "encoding": {"x": {"field": "s", "type": "temporal"}, "x2": {"field": "e"}}},
        {"data": {"name": "bg"}, "transform": [{"filter": "datum.t == 'p'"}], "mark": {"type": "rect", "color": "#fdf0f0"},
         "encoding": {"x": {"field": "s", "type": "temporal"}, "x2": {"field": "e"}}},
        {"mark": {"type": "rule", "color": "#c4c4c4", "strokeDash": [3, 3], "strokeWidth": 0.8},
         "encoding": {"y": {"datum": 0, "type": "quantitative"}}},
        {"mark": {"type": "line", "color": "#ff5a5a", "strokeWidth": 1},
         "encoding": {"x": {"field": "d", "type": "temporal"}, "y": {"field": "TA", "type": "quantitative"}}},
        {"mark": {"type": "point", "filled": true, "color": "#ff1f1f", "size": 5, "opacity": 1},
         "encoding": {"x": {"field": "d", "type": "temporal"}, "y": {"field": "TA", "type": "quantitative"}}},
        {"mark": {"type": "rule", "color": "#666666", "strokeWidth": 1},
         "encoding": {"y": {"datum": 10.2, "type": "quantitative"}}},
        {"transform": [{"filter": "false"}], "mark": {"type": "point", "filled": false, "opacity": 1},
         "encoding": {
           "color": {"field": "k", "type": "nominal", "scale": {"domain": ["TA"], "range": ["#ff1f1f"]}, "legend": {"title": null, "legendX": 216, "legendY": -16.2}},
           "shape": {"field": "k", "type": "nominal", "scale": {"domain": ["TA"], "range": ["M-1,0H1M0.2,0A0.2,0.2,0,1,1,-0.2,0A0.2,0.2,0,1,1,0.2,0"]}, "legend": {"title": null, "legendX": 216, "legendY": -16.2}}}}
      ]
    },
    {
      "width": 456,
      "height": 153,
      "layer": [
        {"mark": {"type": "line", "color": "#3a3a3a", "strokeWidth": 1},
         "encoding": {
           "x": {"field": "d", "type": "temporal", "scale": {"type": "utc", "padding": 0, "domain": [{"year": 2020, "month": 10, "date": 23, "hours": 10, "utc": true}, {"year": 2021, "month": 5, "date": 17, "hours": 2, "utc": true}]},
                 "axis": {"title": null, "format": "%b", "tickCount": 12, "labelOverlap": false, "values": [{"year": 2020, "month": 11, "date": 1, "utc": true}, {"year": 2021, "month": 1, "date": 1, "utc": true}, {"year": 2021, "month": 3, "date": 1, "utc": true}, {"year": 2021, "month": 5, "date": 1, "utc": true}]}},
           "y": {"field": "T5", "type": "quantitative", "scale": {"domain": [-0.64, 7.24], "nice": false, "zero": false},
                 "axis": {"title": "Temperature [°C]", "format": "d", "tickCount": 10, "labelOverlap": false, "values": [0, 2, 4, 6]}}}},
        {"data": {"name": "bg"}, "transform": [{"filter": "datum.t == 'b'"}], "mark": {"type": "rect", "color": "#efeffc"},
         "encoding": {"x": {"field": "s", "type": "temporal"}, "x2": {"field": "e"}}},
        {"data": {"name": "bg"}, "transform": [{"filter": "datum.t == 'p'"}], "mark": {"type": "rect", "color": "#fdf0f0"},
         "encoding": {"x": {"field": "s", "type": "temporal"}, "x2": {"field": "e"}}},
        {"mark": {"type": "rule", "color": "#c4c4c4", "strokeDash": [3, 3], "strokeWidth": 0.8},
         "encoding": {"y": {"datum": 0, "type": "quantitative"}}},
        {"mark": {"type": "line", "color": "#3a3a3a", "strokeWidth": 1},
         "encoding": {"x": {"field": "d", "type": "temporal"}, "y": {"field": "T5", "type": "quantitative"}}},
        {"mark": {"type": "line", "color": "#4a9d4a", "strokeWidth": 1},
         "encoding": {"x": {"field": "d", "type": "temporal"}, "y": {"field": "T15", "type": "quantitative"}}},
        {"mark": {"type": "rule", "color": "#666666", "strokeWidth": 1},
         "encoding": {"y": {"datum": 7.24, "type": "quantitative"}}},
        {"transform": [{"filter": "false"}], "mark": {"type": "point", "filled": false, "opacity": 1},
         "encoding": {
           "color": {"field": "k", "type": "nominal", "scale": {"domain": ["5 cm", "15 cm"], "range": ["#3a3a3a", "#4a9d4a"]}, "legend": {"title": null, "legendX": 189, "legendY": -16.2}},
           "shape": {"field": "k", "type": "nominal", "scale": {"domain": ["5 cm", "15 cm"], "range": ["M-1,0H1", "M-1,0H1"]}, "legend": {"title": null, "legendX": 189, "legendY": -16.2}}}}
      ]
    },
    {
      "width": 456,
      "height": 153,
      "layer": [
        {"mark": {"type": "line", "color": "#3d3d3d", "strokeWidth": 1},
         "encoding": {
           "x": {"field": "d", "type": "temporal", "scale": {"type": "utc", "padding": 0, "domain": [{"year": 2020, "month": 10, "date": 23, "hours": 10, "utc": true}, {"year": 2021, "month": 5, "date": 17, "hours": 2, "utc": true}]},
                 "axis": {"title": null, "format": "%b", "tickCount": 12, "labelOverlap": false, "values": [{"year": 2020, "month": 11, "date": 1, "utc": true}, {"year": 2021, "month": 1, "date": 1, "utc": true}, {"year": 2021, "month": 3, "date": 1, "utc": true}, {"year": 2021, "month": 5, "date": 1, "utc": true}]}},
           "y": {"field": "V15", "type": "quantitative", "scale": {"domain": [-2.07, 41.04], "nice": false, "zero": false},
                 "axis": {"title": "VLWC [%]", "format": "d", "tickCount": 10, "labelOverlap": false, "values": [0, 10, 20, 30, 40]}}}},
        {"data": {"name": "bg"}, "transform": [{"filter": "datum.t == 'b'"}], "mark": {"type": "rect", "color": "#efeffc"},
         "encoding": {"x": {"field": "s", "type": "temporal"}, "x2": {"field": "e"}}},
        {"data": {"name": "bg"}, "transform": [{"filter": "datum.t == 'p'"}], "mark": {"type": "rect", "color": "#fdf0f0"},
         "encoding": {"x": {"field": "s", "type": "temporal"}, "x2": {"field": "e"}}},
        {"mark": {"type": "line", "color": "#3d3d3d", "strokeWidth": 1},
         "encoding": {"x": {"field": "d", "type": "temporal"}, "y": {"field": "V15", "type": "quantitative"}}},
        {"mark": {"type": "line", "color": "#a6d6e6", "strokeWidth": 1.8},
         "encoding": {"x": {"field": "d", "type": "temporal"}, "y": {"field": "V5", "type": "quantitative"}}},
        {"mark": {"type": "line", "color": "#2020ff", "strokeWidth": 0.8},
         "encoding": {"x": {"field": "d", "type": "temporal"}, "y": {"field": "VS", "type": "quantitative"}}},
        {"mark": {"type": "point", "filled": true, "color": "#2020ff", "size": 6, "opacity": 1},
         "encoding": {"x": {"field": "d", "type": "temporal"}, "y": {"field": "VS", "type": "quantitative"}}},
        {"mark": {"type": "rule", "color": "#666666", "strokeWidth": 1},
         "encoding": {"y": {"datum": 41.04, "type": "quantitative"}}},
        {"transform": [{"filter": "false"}], "mark": {"type": "point", "filled": false, "opacity": 1},
         "encoding": {
           "color": {"field": "k", "type": "nominal", "scale": {"domain": ["15 cm", "5 cm", "snow"], "range": ["#3d3d3d", "#a6d6e6", "#2020ff"]}, "legend": {"title": null, "legendX": 170, "legendY": -16.2}},
           "shape": {"field": "k", "type": "nominal", "scale": {"domain": ["15 cm", "5 cm", "snow"], "range": ["M-1,0H1", "M-1,0H1", "M-1,0H1M0.2,0A0.2,0.2,0,1,1,-0.2,0A0.2,0.2,0,1,1,0.2,0"]}, "legend": {"title": null, "legendX": 170, "legendY": -16.2}}}}
      ]
    },
    {
      "width": 456,
      "height": 153,
      "layer": [
        {"mark": {"type": "line", "color": "#7f7fff", "strokeWidth": 1},
         "encoding": {
           "x": {"field": "d", "type": "temporal", "scale": {"type": "utc", "padding": 0, "domain": [{"year": 2020, "month": 10, "date": 23, "hours": 10, "utc": true}, {"year": 2021, "month": 5, "date": 17, "hours": 2, "utc": true}]},
                 "axis": {"title": null, "format": "%b", "tickCount": 12, "labelOverlap": false, "values": [{"year": 2020, "month": 11, "date": 1, "utc": true}, {"year": 2021, "month": 1, "date": 1, "utc": true}, {"year": 2021, "month": 3, "date": 1, "utc": true}, {"year": 2021, "month": 5, "date": 1, "utc": true}]}},
           "y": {"field": "S1", "type": "quantitative", "scale": {"domain": [-129, 3178], "nice": false, "zero": false},
                 "axis": {"title": "Cumulative glide [cm]", "format": "d", "tickCount": 10, "labelOverlap": false, "values": [0, 500, 1000, 1500, 2000, 2500, 3000]}}}},
        {"data": {"name": "bg"}, "transform": [{"filter": "datum.t == 'b'"}], "mark": {"type": "rect", "color": "#efeffc"},
         "encoding": {"x": {"field": "s", "type": "temporal"}, "x2": {"field": "e"}}},
        {"data": {"name": "bg"}, "transform": [{"filter": "datum.t == 'p'"}], "mark": {"type": "rect", "color": "#fdf0f0"},
         "encoding": {"x": {"field": "s", "type": "temporal"}, "x2": {"field": "e"}}},
        {"mark": {"type": "line", "color": "#7f7fff", "strokeWidth": 1},
         "encoding": {"x": {"field": "d", "type": "temporal"}, "y": {"field": "S1", "type": "quantitative"}}},
        {"mark": {"type": "line", "color": "#7f7fff", "strokeWidth": 1, "strokeDash": [2, 2]},
         "encoding": {"x": {"field": "d", "type": "temporal"}, "y": {"field": "S2", "type": "quantitative"}}},
        {"mark": {"type": "rule", "color": "#666666", "strokeWidth": 1},
         "encoding": {"y": {"datum": 3178, "type": "quantitative"}}},
        {"transform": [{"filter": "false"}], "mark": {"type": "point", "filled": false, "opacity": 1},
         "encoding": {
           "color": {"field": "k", "type": "nominal", "scale": {"domain": ["S1", "S2"], "range": ["#7f7fff", "#7f7fff"]}, "legend": {"title": null, "legendX": 204, "legendY": -16.2}},
           "shape": {"field": "k", "type": "nominal", "scale": {"domain": ["S1", "S2"], "range": ["M-1,0H1", "M-1,0H-0.6M-0.2,0H0.2M0.6,0H1"]}, "legend": {"title": null, "legendX": 204, "legendY": -16.2}}}}
      ]
    }
  ],
  "config": {
    "view": {"stroke": null},
    "font": "Liberation Sans",
    "axis": {
      "labelFont": "Liberation Sans", "titleFont": "Liberation Sans",
      "labelFontSize": 7.3, "titleFontSize": 7, "titleFontWeight": "normal",
      "labelColor": "#333333", "titleColor": "#333333",
      "domainColor": "#666666", "tickColor": "#666666",
      "grid": false, "labelFlush": false, "labelOverlap": false
    },
    "axisX": {"tickSize": 4, "labelPadding": 3},
    "axisY": {"tickSize": 3.5, "labelAngle": -90, "labelAlign": "center", "labelBaseline": "bottom", "labelPadding": 3.4, "titlePadding": 9},
    "legend": {
      "orient": "none", "direction": "horizontal", "symbolSize": 130, "symbolStrokeWidth": 1.2,
      "labelFont": "Liberation Sans", "labelFontSize": 8, "labelColor": "#333333",
      "labelOffset": 4, "columnPadding": 14, "padding": 0
    }
  }
}
